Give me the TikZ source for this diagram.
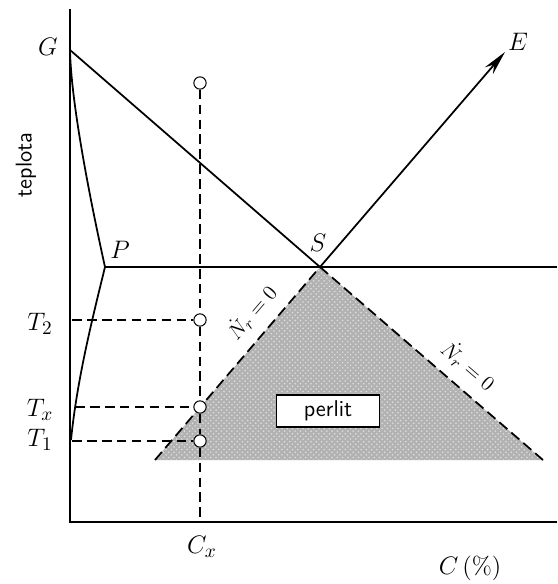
\documentclass[tikz,border=0pt]{standalone}
\usepackage{amsmath}
\usetikzlibrary{arrows.meta,patterns}

\begin{document}
\begin{tikzpicture}[x=0.02cm, y=-0.02cm,
    ln/.style={line width=1pt},
    guide/.style={line width=0.6pt, dash pattern=on 5.5pt off 3pt},
    border/.style={line width=1pt, dash pattern=on 6pt off 3pt},
    circmark/.style={circle, draw, fill=white, inner sep=0pt,
        minimum size=7pt, line width=0.6pt},
    lbl/.style={font=\fontsize{15}{18}\selectfont},
    nlbl/.style={font=\fontsize{13}{15}\selectfont, sloped, above=5pt, inner sep=1pt}
]
    \useasboundingbox (0,0) rectangle (557,584);
    % axes and points
    \coordinate (O) at (70,522);
    \coordinate (Ytop) at (70,9);
    \coordinate (Xend) at (557,522);
    \coordinate (G) at (70,50);
    \coordinate (P) at (105,267);
    \coordinate (S) at (320,267);
    \coordinate (E) at (505,52);
    \coordinate (Hend) at (557,267);
    \coordinate (L) at (155,460);
    \coordinate (R) at (543,460);
    \coordinate (B) at (71,440);
    \coordinate (Cx) at (200,522);
    \coordinate (a2) at (72,320);
    \coordinate (ax) at (75,407);
    \coordinate (a1) at (72,441);

    % perlit region
    \fill[gray!60] (S) -- (L) -- (R) -- cycle;
    \fill[pattern=crosshatch dots, pattern color=gray!25] (S) -- (L) -- (R) -- cycle;
    \draw[border] (L) -- node[nlbl, pos=0.69] {$\dot{N}_r=0$} (S);
    \draw[border] (S) -- node[nlbl, pos=0.6] {$\dot{N}_r=0$} (R);

    \draw[ln] (Ytop) -- (O) -- (Xend);
    \draw[ln] (G) -- (S);
    \draw[ln, -{Stealth[length=14pt, width=6pt]}] (S) -- (E);
    \draw[ln] (P) -- (Hend);
    \draw[ln] (G) .. controls (71,100) and (88,190) .. (P);
    \draw[ln] (P) .. controls (92,320) and (77,380) .. (B);

    % guide lines
    \node[circmark] (c0) at (200,83) {};
    \node[circmark] (c2) at (200,320) {};
    \node[circmark] (cx) at (200,407) {};
    \node[circmark] (c1) at (200,441) {};
    \draw[guide] (c0) -- (c2) -- (cx) -- (c1) -- (Cx);
    \draw[guide] (a2) -- (c2);
    \draw[guide] (ax) -- (cx);
    \draw[guide] (a1) -- (c1);

    \node[draw, fill=white, line width=0.8pt, minimum width=2.05cm,
        minimum height=0.62cm, font=\sffamily\fontsize{13}{15}\selectfont] (perlit) at (328,411) {perlit};

    % labels
    \node[lbl] (lG) at (48,47) {$G$};
    \node[lbl] (lP) at (120,250) {$P$};
    \node[lbl] (lS) at (318,243) {$S$};
    \node[lbl] (lE) at (518,42) {$E$};
    \node[lbl] (lT2) at (40,324) {$T_2$};
    \node[lbl] (lTx) at (40,410) {$T_x$};
    \node[lbl] (lT1) at (40,440) {$T_1$};
    \node[lbl] (lCx) at (202,547) {$C_x$};
    \node[font=\fontsize{14}{16}\selectfont] (lC) at (470,568) {$C$\,(\%)};
    \node[font=\sffamily\fontsize{13}{15}\selectfont, rotate=90] (lteplota) at (26,165) {teplota};
\end{tikzpicture}
\end{document}
